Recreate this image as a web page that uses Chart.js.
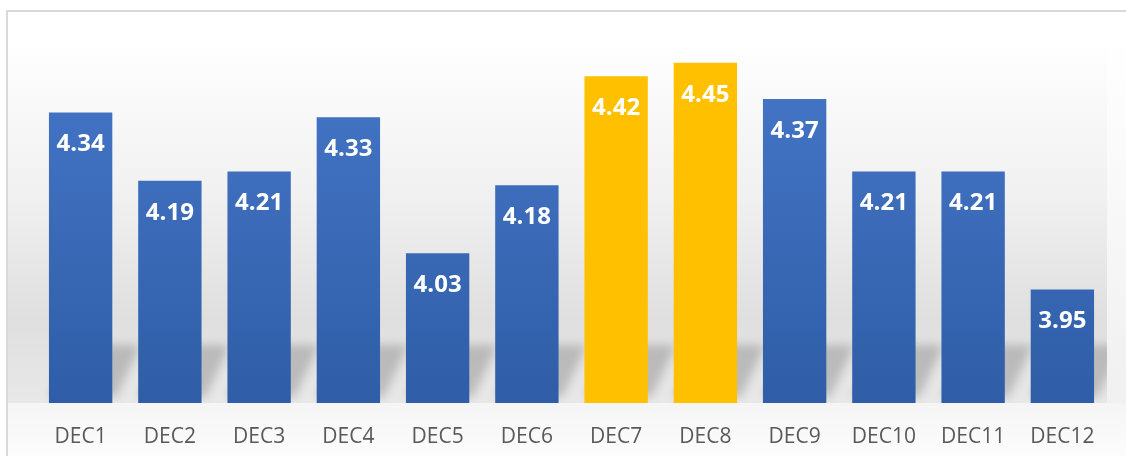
<!DOCTYPE html>
<html>
<head>
<meta charset="utf-8">
<script src="https://cdn.jsdelivr.net/npm/chart.js@4/dist/chart.umd.min.js"></script>
<style>
    html, body { margin: 0; padding: 0; background: #ffffff; }
    #wrap { position: relative; width: 1126px; height: 456px; }
</style>
</head>
<body>
<div id="wrap"><canvas id="chart"></canvas></div>
<script>
// data
const categories = ["DEC1", "DEC2", "DEC3", "DEC4", "DEC5", "DEC6", "DEC7", "DEC8", "DEC9", "DEC10", "DEC11", "DEC12"];
const values = [4.34, 4.19, 4.21, 4.33, 4.03, 4.18, 4.42, 4.45, 4.37, 4.21, 4.21, 3.95];
const highlighted = ["DEC7", "DEC8"];
const yMin = 3.7;
const yMax = 4.5;

// floor-like background + frame
const backdrop = {
    id: "backdrop",
    beforeDraw(chart) {
        const { ctx, chartArea: a, width, height } = chart;
        ctx.save();
        const g = ctx.createLinearGradient(0, a.top, 0, a.bottom);
        g.addColorStop(0, "#ffffff");
        g.addColorStop(0.44, "#f0f0f0");
        g.addColorStop(0.77, "#dfdfdf");
        g.addColorStop(1, "#e8e8e8");
        ctx.fillStyle = g;
        ctx.fillRect(8, a.top, a.right - 8, a.bottom - a.top);
        const g2 = ctx.createLinearGradient(0, a.top, 0, a.bottom);
        g2.addColorStop(0, "#ffffff");
        g2.addColorStop(1, "#f0f0f0");
        ctx.fillStyle = g2;
        ctx.fillRect(a.right, a.top, width - a.right, a.bottom - a.top);
        const g3 = ctx.createLinearGradient(0, a.bottom, 0, height);
        g3.addColorStop(0, "#f5f5f5");
        g3.addColorStop(1, "#fcfcfc");
        ctx.fillStyle = g3;
        ctx.fillRect(8, a.bottom, width, height - a.bottom);
        ctx.restore();
    },
    beforeDatasetsDraw(chart) {
        // soft cast shadows behind bars
        const { ctx, chartArea: a } = chart;
        const bars = chart.getDatasetMeta(0).data;
        ctx.save();
        ctx.beginPath();
        ctx.rect(a.left, a.top, a.right - a.left, a.bottom - a.top);
        ctx.clip();
        ctx.filter = "blur(5px)";
        ctx.fillStyle = "rgba(0,0,0,0.18)";
        bars.forEach((b) => {
            const l = b.x - b.width / 2;
            const r = b.x + b.width / 2;
            ctx.beginPath();
            ctx.moveTo(l, a.bottom - 6);
            ctx.lineTo(r + 4, a.bottom - 6);
            ctx.lineTo(r + 28, a.bottom - 58);
            ctx.lineTo(l + 28, a.bottom - 58);
            ctx.closePath();
            ctx.fill();
        });
        ctx.restore();
    },
    afterDraw(chart) {
        const ctx = chart.ctx;
        ctx.save();
        ctx.strokeStyle = "#d9d9d9";
        ctx.lineWidth = 2;
        ctx.strokeRect(7, 11, 1200, 500);
        ctx.restore();
    },
};

// value labels inside the bar tops
const valueLabels = {
    id: "valueLabels",
    afterDatasetsDraw(chart) {
        const ctx = chart.ctx;
        ctx.save();
        ctx.font = "bold 24px 'Open Sans'";
        ctx.fillStyle = "#ffffff";
        ctx.textAlign = "center";
        ctx.textBaseline = "middle";
        chart.getDatasetMeta(0).data.forEach((bar, i) => {
            ctx.fillText(values[i].toFixed(2), bar.x, bar.y + 32);
        });
        ctx.restore();
    },
};

function barColor(context) {
    if (highlighted.includes(categories[context.dataIndex])) return "#FFC000";
    const area = context.chart.chartArea;
    if (!area) return "#3d6dbd";
    const g = context.chart.ctx.createLinearGradient(0, area.top, 0, area.bottom);
    g.addColorStop(0, "#4678c9");
    g.addColorStop(1, "#2f5da7");
    return g;
}

new Chart(document.getElementById("chart"), {
    type: "bar",
    data: {
        labels: categories,
        datasets: [
            {
                data: values,
                backgroundColor: barColor,
                borderWidth: 0,
                categoryPercentage: 1,
                barPercentage: 0.71,
            },
        ],
    },
    options: {
        responsive: true,
        maintainAspectRatio: false,
        animation: false,
        layout: { padding: { left: 36, right: 19, top: 40, bottom: 9 } },
        plugins: {
            legend: { display: false },
            tooltip: { enabled: false },
        },
        scales: {
            x: {
                grid: { display: false, drawTicks: false },
                border: { display: false },
                ticks: {
                    padding: 21,
                    color: "#595959",
                    font: { family: "'Open Sans'", size: 21 },
                },
                afterFit(scale) {
                    scale.height = 44;
                },
            },
            y: {
                display: false,
                min: yMin,
                max: yMax,
            },
        },
    },
    plugins: [backdrop, valueLabels],
});
</script>
</body>
</html>
